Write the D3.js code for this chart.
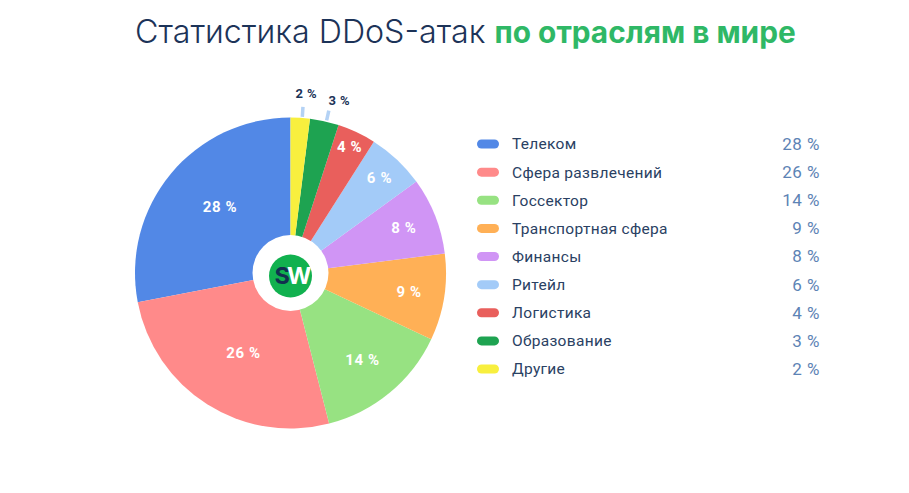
<!DOCTYPE html>
<html>
<head>
<meta charset="utf-8">
<script src="https://cdn.jsdelivr.net/npm/d3@7"></script>
<style>
html, body { margin: 0; padding: 0; background: #fff; }
</style>
</head>
<body>
<div id="chart"></div>
<script>
let categories = ["Телеком", "Сфера развлечений", "Госсектор", "Транспортная сфера", "Финансы", "Ритейл", "Логистика", "Образование", "Другие"];
let values = [28, 26, 14, 9, 8, 6, 4, 3, 2];
let colors = ["#5288e6", "#ff8a8a", "#97e282", "#ffb056", "#d095f5", "#a3cbf8", "#e95f5c", "#1ea351", "#f8ef3e"];
// labels sit further out on the small slices, and a bit off the slice middle (degrees)
let labelRadius = [97, 92.5, 113, 120, 122, 130, 139];
let labelShift = [3.7, -1.8, 0, 0, 0, 0, 0];

let svgWidth = 909;
let svgHeight = 493;
let navy = "#1c3358";

let svg = d3.select("#chart")
	.append("svg")
	.attr("width", svgWidth)
	.attr("height", svgHeight)
	.style("display", "block");

// title, two weights
let title = svg.append("text")
	.attr("x", 135)
	.attr("y", 43)
	.attr("font-family", "Inter");
title.append("tspan")
	.attr("fill", navy)
	.attr("font-weight", 300)
	.attr("font-size", "32.2px")
	.text("Статистика DDoS-атак ");
title.append("tspan")
	.attr("fill", "#2fb866")
	.attr("font-weight", 700)
	.attr("font-size", "29.8px")
	.text("по отраслям в мире");

// pie goes counter-clockwise from 12 o'clock
let cx = 290.5, cy = 273, radius = 155.5;

let pie = d3.pie()
	.sort(null)
	.startAngle(0)
	.endAngle(-2 * Math.PI);

let arcs = pie(values);
let arc = d3.arc().innerRadius(0).outerRadius(radius);
let ringAt = r => d3.arc().innerRadius(r).outerRadius(r);
let midAngle = d => (d.startAngle + d.endAngle) / 2;

let pieGroup = svg.append("g").attr("transform", `translate(${cx}, ${cy})`);

pieGroup.selectAll("path")
	.data(arcs)
	.enter()
	.append("path")
	.attr("d", arc)
	.attr("fill", (d, i) => colors[i]);

// small ticks for the two thin slices
let outside = arcs.filter(d => d.value <= 3);

pieGroup.selectAll("line")
	.data(outside)
	.enter()
	.append("line")
	.attr("x1", d => ringAt(radius + 1).centroid(d)[0] + 2)
	.attr("y1", d => ringAt(radius + 1).centroid(d)[1])
	.attr("x2", d => ringAt(radius + 11).centroid(d)[0] + 2)
	.attr("y2", d => ringAt(radius + 11).centroid(d)[1])
	.attr("stroke", "#b4d2f5")
	.attr("stroke-width", 3.5);

pieGroup.selectAll(".outer")
	.data(outside)
	.enter()
	.append("text")
	.attr("class", "outer")
	.attr("x", d => ringAt(radius + 25).centroid(d)[0] + (d.value == 3 ? 9.5 : 4.5))
	.attr("y", d => ringAt(radius + 25).centroid(d)[1] + (d.value == 3 ? 3.5 : 0.5))
	.attr("text-anchor", "middle")
	.attr("dy", "0.35em")
	.attr("font-family", "Roboto")
	.attr("font-weight", 700)
	.attr("font-size", "13px")
	.attr("letter-spacing", "0.4px")
	.attr("fill", navy)
	.text(d => `${d.value} %`);

let labelPos = (d, i) => d3.pointRadial(midAngle(d) + labelShift[i] * Math.PI / 180, labelRadius[i]);

pieGroup.selectAll(".inner")
	.data(arcs.filter(d => d.value > 3))
	.enter()
	.append("text")
	.attr("class", "inner")
	.attr("x", (d, i) => labelPos(d, i)[0])
	.attr("y", (d, i) => labelPos(d, i)[1])
	.attr("text-anchor", "middle")
	.attr("dy", "0.35em")
	.attr("font-family", "Roboto")
	.attr("font-weight", 700)
	.attr("font-size", "15px")
	.attr("letter-spacing", "0.6px")
	.attr("fill", "#fff")
	.text(d => `${d.value} %`);

// logo in the middle
pieGroup.append("circle").attr("r", 38).attr("fill", "#fff");
pieGroup.append("circle").attr("cy", 3).attr("r", 21.5).attr("fill", "#11b14f");
let logo = pieGroup.append("text")
	.attr("x", 1)
	.attr("y", 11)
	.attr("text-anchor", "middle")
	.attr("font-family", "Inter")
	.attr("font-weight", 700)
	.attr("font-size", "23.5px")
	.attr("letter-spacing", "-3px");
logo.append("tspan").attr("fill", "#12304f").text("S");
logo.append("tspan").attr("fill", "#fff").text("W");

// legend
let legendY = d3.scalePoint()
	.domain(categories)
	.range([144, 369]);

let legend = svg.selectAll(".legend")
	.data(categories)
	.enter()
	.append("g")
	.attr("class", "legend")
	.attr("transform", d => `translate(0, ${legendY(d)})`);

legend.append("rect")
	.attr("x", 477)
	.attr("y", -4.5)
	.attr("width", 22)
	.attr("height", 9)
	.attr("rx", 4.5)
	.attr("fill", (d, i) => colors[i]);

legend.append("text")
	.attr("x", 512)
	.attr("dy", "0.35em")
	.attr("font-family", "Roboto")
	.attr("font-size", "15.5px")
	.attr("letter-spacing", "0.3px")
	.attr("fill", "#2a4163")
	.text(d => d);

legend.append("text")
	.attr("x", 820)
	.attr("dy", "0.35em")
	.attr("text-anchor", "end")
	.attr("font-family", "Roboto")
	.attr("font-size", "17px")
	.attr("letter-spacing", "0.5px")
	.attr("fill", "#5d83b5")
	.text((d, i) => `${values[i]} %`);
</script>
</body>
</html>
